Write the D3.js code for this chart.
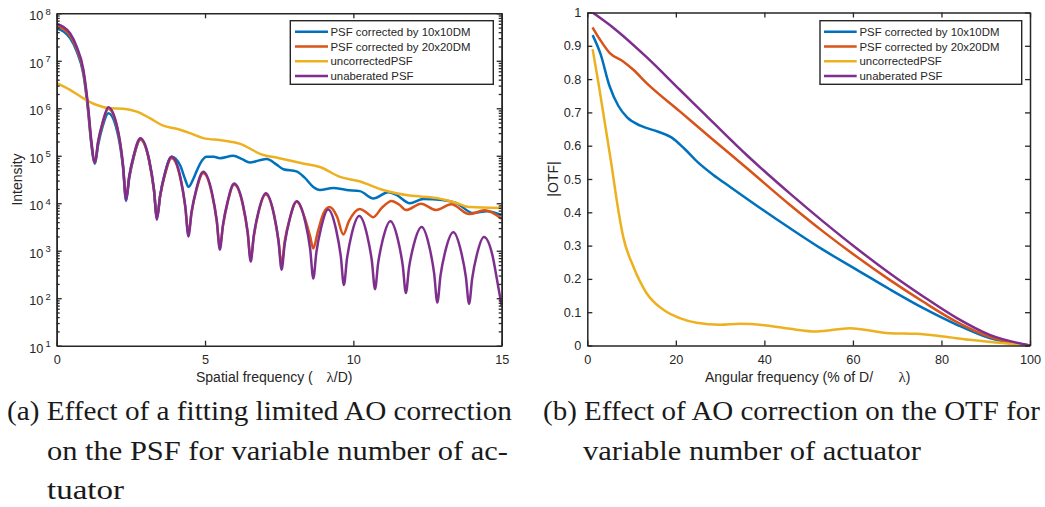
<!DOCTYPE html>
<html><head><meta charset="utf-8">
<script src="https://cdn.jsdelivr.net/npm/d3@7"></script>
<style>body{margin:0;background:#fff} svg{display:block}</style>
</head><body>
<svg id="c" width="1045" height="507"></svg>
<script>
// ---------------- DATA ----------------
const seriesNames = ["PSF corrected by 10x10DM", "PSF corrected by 20x20DM", "uncorrectedPSF", "unaberated PSF"];

// Panel (a): intensity vs spatial frequency (lambda/D)
const psf10 = [[0,4.8e7],[0.22,4.2e7],[0.45,3.0e7],[0.67,1.6e7],[0.9,5.2e6],[1.06,8.5e5],[1.16,1.9e5],[1.29,6.8e4],
[1.395,1.66e5],[1.55,4.2e5],[1.74,7.9e5],[2.08,2.5e5],[2.235,5.6e4],[2.34,1.12e4],
[2.444,3.3e4],[2.6,9.5e4],[2.82,2.2e5],[3.12,7.6e4],[3.276,2.0e4],[3.38,5.0e3],
[3.486,1.45e4],[3.645,4.2e4],[3.87,9.5e4],[4.16,6.3e4],[4.33,3.2e4],[4.44,2.2e4],[4.6,3.2e4],[4.72,4.8e4],[4.9,7.9e4],
[5.05,9.5e4],[5.3,9.5e4],[5.5,8.9e4],[5.95,1.0e5],[6.25,8.5e4],[6.51,7.2e4],[6.8,7.9e4],[7.08,8.5e4],[7.4,6.6e4],
[7.64,5.2e4],[8.08,4.7e4],[8.35,3.5e4],[8.65,2.2e4],[8.87,1.9e4],[9.32,2.1e4],[9.77,1.9e4],[10.22,1.8e4],[10.67,1.26e4],
[11.18,1.7e4],[11.45,1.5e4],[11.9,1.0e4],[12.36,1.23e4],[13.0,1.17e4],[13.48,1.0e4],[14.04,6.2e3],[14.5,6.8e3],[15,5.6e3]];

const psf20 = [[0,5.4e7],[0.22,4.7e7],[0.45,3.4e7],[0.67,1.8e7],[0.9,5.8e6],[1.06,9.5e5],[1.16,2.1e5],[1.29,7.1e4],
[1.395,1.9e5],[1.55,4.8e5],[1.74,9.8e5],[2.08,2.9e5],[2.235,6.2e4],[2.34,1.3e4],
[2.444,3.6e4],[2.6,9.8e4],[2.82,2.2e5],[3.12,7.6e4],[3.276,1.9e4],[3.38,5.0e3],
[3.486,1.4e4],[3.645,3.9e4],[3.87,8.9e4],[4.175,3.2e4],[4.334,8.3e3],[4.44,2.3e3],
[4.546,6.3e3],[4.705,1.85e4],[4.94,4.3e4],[5.235,1.55e4],[5.394,4.2e3],[5.50,1.2e3],
[5.604,3.3e3],[5.76,1.02e4],[5.98,2.45e4],[6.28,8.8e3],[6.436,2.4e3],[6.54,6.8e2],
[6.644,2.0e3],[6.80,6.3e3],[7.05,1.53e4],[7.32,5.8e3],[7.476,1.6e3],[7.58,5.2e2],
[7.687,1.6e3],[7.85,4.6e3],[8.09,1.07e4],[8.38,4.5e3],[8.543,2.0e3],[8.65,1.12e3],
[8.8,2.5e3],[9.0,6.3e3],[9.2,8.3e3],[9.45,5.2e3],[9.66,2.2e3],[9.85,4.2e3],[10.22,7.6e3],[10.45,6.3e3],[10.67,5.1e3],
[10.95,7.9e3],[11.29,1.12e4],[11.55,9.3e3],[11.78,7.2e3],[12.28,9.8e3],[12.79,7.2e3],[13.3,9.5e3],[13.91,5.9e3],[14.42,7.1e3],[15,4.7e3]];

const psfUncorr = [[0,3.4e6],[0.45,2.45e6],[0.9,1.62e6],[1.35,1.17e6],[1.8,1.0e6],[2.25,9.8e5],[2.7,8.5e5],[3.14,6.2e5],
[3.59,4.3e5],[4.04,3.7e5],[4.49,3.0e5],[4.94,2.35e5],[5.6,2.1e5],[6.16,1.8e5],[6.94,1.05e5],[7.5,8.9e4],[8.3,6.9e4],
[8.87,5.8e4],[9.55,3.6e4],[10.2,2.9e4],[11.0,1.9e4],[11.9,1.45e4],[12.8,1.29e4],[13.5,1.0e4],[13.9,8.3e3],[15,7.9e3]];

const psfUnab = [[0,6.0e7],[0.22,5.2e7],[0.45,3.8e7],[0.67,2.0e7],[0.9,6.5e6],[1.06,1.07e6],[1.16,2.3e5],[1.29,7.2e4],
[1.395,2.0e5],[1.55,5.1e5],[1.74,1.05e6],[2.08,3.1e5],[2.235,6.5e4],[2.34,1.17e4],
[2.444,3.7e4],[2.6,1.05e5],[2.82,2.35e5],[3.12,8.1e4],[3.276,2.0e4],[3.38,4.5e3],
[3.486,1.43e4],[3.645,4.2e4],[3.87,9.5e4],[4.175,3.4e4],[4.334,8.7e3],[4.44,2.0e3],
[4.546,6.6e3],[4.705,1.96e4],[4.94,4.6e4],[5.235,1.65e4],[5.394,4.4e3],[5.50,1.05e3],
[5.604,3.5e3],[5.76,1.08e4],[5.98,2.6e4],[6.28,9.3e3],[6.436,2.5e3],[6.54,5.9e2],
[6.644,2.1e3],[6.80,6.6e3],[7.05,1.62e4],[7.32,6.0e3],[7.476,1.62e3],[7.58,4.0e2],
[7.687,1.41e3],[7.85,4.5e3],[8.09,1.1e4],[8.38,4.0e3],[8.543,1.1e3],[8.65,2.6e2],
[8.753,9.3e2],[8.91,3.0e3],[9.15,7.4e3],[9.42,2.75e3],[9.577,7.6e2],[9.68,1.9e2],
[9.785,6.8e2],[9.94,2.2e3],[10.2,5.4e3],[10.47,2.05e3],[10.625,6.0e2],[10.73,1.55e2],
[10.834,5.4e2],[10.99,1.7e3],[11.25,4.2e3],[11.51,1.62e3],[11.666,4.8e2],[11.77,1.29e2],
[11.876,4.4e2],[12.035,1.33e3],[12.3,3.16e3],[12.565,1.18e3],[12.724,3.3e2],[12.83,8.1e1],
[12.937,3.0e2],[13.1,9.8e2],[13.37,2.45e3],[13.63,9.6e2],[13.793,2.8e2],[13.9,7.6e1],
[14.005,2.6e2],[14.16,8.1e2],[14.4,1.95e3],[14.69,7.9e2],[14.845,2.4e2],[15,6.8e1]];

// Panel (b): |OTF| vs angular frequency (% of D/lambda)
const otf10 = [[1.2,0.932],[3,0.875],[5,0.78],[7,0.72],[9,0.685],[12,0.66],[16,0.642],[19,0.625],[22,0.59],[25,0.55],
[28.4,0.513],[32.2,0.477],[39.7,0.407],[45.8,0.352],[53.3,0.287],[60.8,0.228],[68.3,0.169],[75.8,0.113],[83.4,0.063],[90.9,0.022],[100,0]];
const otf20 = [[1.2,0.955],[2.9,0.918],[5.1,0.878],[8.1,0.853],[10.4,0.828],[13.4,0.788],[20.9,0.703],[28.4,0.618],[36,0.533],
[45.8,0.422],[53.3,0.342],[60.8,0.267],[68.3,0.197],[75.8,0.132],[83.4,0.071],[90.9,0.026],[100,0]];
const otfUncorr = [[1.2,0.89],[2.5,0.79],[4,0.665],[5.5,0.54],[6.6,0.44],[8.1,0.327],[10.4,0.237],[13.4,0.157],[17.2,0.107],
[20.9,0.082],[24.7,0.068],[30,0.062],[34.5,0.065],[40.5,0.06],[45.8,0.05],[51.8,0.042],[59.3,0.052],[68.3,0.037],
[74.4,0.035],[80.4,0.027],[86.4,0.017],[92.4,0.009],[100,0]];
const otfUnab = [[1.2,1.0],[6,0.953],[13.4,0.866],[20.9,0.768],[28.4,0.670],[36,0.572],[45.8,0.456],[53.3,0.372],
[60.8,0.292],[68.3,0.217],[75.8,0.148],[83.4,0.083],[90.9,0.032],[100,0]];

const xTicksA = [0,5,10,15];
const yMajorA = [1e1,1e2,1e3,1e4,1e5,1e6,1e7,1e8];
const xTicksB = [0,20,40,60,80,100];
const yTicksB = [0,0.1,0.2,0.3,0.4,0.5,0.6,0.7,0.8,0.9,1];

const xLabelA = ["Spatial frequency (", "\u03BB", "/D)"];
const xLabelB = ["Angular frequency (% of D/", "\u03BB", ")"];
const yLabelA = "Intensity";
const yLabelB = "|OTF|";
const captionA = ["(a) Effect of a fitting limited AO correction", "on the PSF for variable number of ac-", "tuator"];
const captionB = ["(b) Effect of AO correction on the OTF for", "variable number of actuator"];

// ---------------- DRAWING ----------------
const colors = ['#0072BD', '#D95319', '#EDB120', '#7E2F8E'];
const axisColor = '#262626';
const sans = "'Liberation Sans', Arial, Helvetica, sans-serif";
const svg = d3.select('#c');

function panel(box, x, y, opts) {
  const g = svg.append('g');
  const clipId = 'clip' + opts.id;
  svg.append('defs').append('clipPath').attr('id', clipId)
    .append('rect').attr('x', box.x0).attr('y', box.y0).attr('width', box.x1 - box.x0).attr('height', box.y1 - box.y0);

  const line = d3.line().x(d => x(d[0])).y(d => y(d[1])).curve(d3.curveMonotoneX);
  const cg = g.append('g').attr('clip-path', `url(#${clipId})`);
  opts.series.forEach((s, i) => {
    cg.append('path').datum(s).attr('d', line).attr('fill', 'none')
      .attr('stroke', colors[i]).attr('stroke-width', 2.5).attr('stroke-linejoin', 'round').attr('stroke-linecap', 'butt');
  });

  const styleAxis = sel => {
    sel.attr('font-family', sans).attr('font-size', 12.7);
    sel.selectAll('.domain').attr('stroke', axisColor).attr('stroke-width', 1.5);
    sel.selectAll('.tick line').attr('stroke', axisColor).attr('stroke-width', 1.3);
    sel.selectAll('.tick text').attr('fill', axisColor);
  };
  const none = () => '';

  if (opts.yMinor) {
    g.append('g').attr('transform', `translate(${box.x0},0)`)
      .call(d3.axisLeft(y).tickValues(opts.yMinor).tickSizeInner(-3).tickSizeOuter(0).tickFormat(none)).call(styleAxis);
    g.append('g').attr('transform', `translate(${box.x1},0)`)
      .call(d3.axisRight(y).tickValues(opts.yMinor).tickSizeInner(-3).tickSizeOuter(0).tickFormat(none)).call(styleAxis);
  }
  g.append('g').attr('transform', `translate(0,${box.y1})`)
    .call(d3.axisBottom(x).tickValues(opts.xTicks).tickSizeInner(-5).tickSizeOuter(0).tickPadding(9).tickFormat(d3.format('d'))).call(styleAxis);
  g.append('g').attr('transform', `translate(0,${box.y0})`)
    .call(d3.axisTop(x).tickValues(opts.xTicks).tickSizeInner(-5).tickSizeOuter(0).tickFormat(none)).call(styleAxis);
  const la = g.append('g').attr('transform', `translate(${box.x0},0)`)
    .call(d3.axisLeft(y).tickValues(opts.yTicks).tickSizeInner(-5).tickSizeOuter(0).tickPadding(6).tickFormat(opts.yFormat)).call(styleAxis);
  g.append('g').attr('transform', `translate(${box.x1},0)`)
    .call(d3.axisRight(y).tickValues(opts.yTicks).tickSizeInner(-5).tickSizeOuter(0).tickFormat(none)).call(styleAxis);

  if (opts.logLabels) {
    la.selectAll('.tick text').each(function(d) {
      const t = d3.select(this);
      t.text('10').attr('dy', '0.5em');
      t.append('tspan').attr('dy', -5.5).attr('dx', 2).attr('font-size', 9.5).text(Math.round(Math.log10(d)));
    });
  }

  const lg = g.append('g');
  lg.append('rect').attr('x', opts.legend.x0).attr('y', 20.7).attr('width', opts.legend.x1 - opts.legend.x0).attr('height', 63.6)
    .attr('fill', '#fff').attr('stroke', axisColor).attr('stroke-width', 1.4);
  seriesNames.forEach((n, i) => {
    const yy = 31.7 + i * 14.8;
    lg.append('line').attr('x1', opts.legend.lx0).attr('x2', opts.legend.lx1).attr('y1', yy).attr('y2', yy)
      .attr('stroke', colors[i]).attr('stroke-width', 2.5);
    lg.append('text').attr('x', opts.legend.tx).attr('y', yy + 4).attr('font-family', sans).attr('font-size', 11.4)
      .attr('fill', axisColor).text(n);
  });

  const xl = g.append('text').attr('x', opts.xLab.x).attr('y', 382).attr('font-family', sans).attr('font-size', 14).attr('fill', axisColor);
  xl.append('tspan').text(opts.xLab.parts[0]);
  xl.append('tspan').attr('x', opts.xLab.lx).attr('font-family', "'Liberation Serif', 'Times New Roman', serif").attr('font-size', 15).text(opts.xLab.parts[1]);
  xl.append('tspan').text(opts.xLab.parts[2]);

  g.append('text').attr('transform', `translate(${opts.yLab.x},${(box.y0 + box.y1) / 2}) rotate(-90)`)
    .attr('text-anchor', 'middle').attr('font-family', sans).attr('font-size', 14).attr('fill', axisColor).text(opts.yLab.text);
}

const boxA = {x0: 56.7, x1: 501.7, y0: 13.3, y1: 345.7};
const xA = d3.scaleLinear().domain([0, 15]).range([boxA.x0, boxA.x1]);
const yA = d3.scaleLog().domain([1e1, 1e8]).range([boxA.y1, boxA.y0]);
const minorA = [];
yMajorA.slice(0, -1).forEach(m => { for (let k = 2; k <= 9; k++) minorA.push(m * k); });
panel(boxA, xA, yA, {
  id: 'A', series: [psf10, psf20, psfUncorr, psfUnab], xTicks: xTicksA, yTicks: yMajorA, yMinor: minorA,
  yFormat: d => '10', logLabels: true,
  legend: {x0: 290.3, x1: 493.3, lx0: 295, lx1: 328, tx: 330.5},
  xLab: {x: 196, lx: 326.5, parts: xLabelA},
  yLab: {x: 22, text: yLabelA}
});

const boxB = {x0: 587.3, x1: 1030, y0: 12.5, y1: 345.5};
const xB = d3.scaleLinear().domain([0, 100]).range([boxB.x0, boxB.x1]);
const yB = d3.scaleLinear().domain([0, 1]).range([boxB.y1, boxB.y0]);
panel(boxB, xB, yB, {
  id: 'B', series: [otf10, otf20, otfUncorr, otfUnab], xTicks: xTicksB, yTicks: yTicksB,
  yFormat: d => (d === 0 || d === 1) ? String(d) : d3.format('.1f')(d), logLabels: false,
  legend: {x0: 820, x1: 1021.7, lx0: 824, lx1: 856.7, tx: 859.5},
  xLab: {x: 705, lx: 898.5, parts: xLabelB},
  yLab: {x: 557.5, text: yLabelB}
});

const serif = "'Liberation Serif', 'Times New Roman', serif";
const capA = [{x: 7, y: 420, w: 505}, {x: 47, y: 460, w: 461}, {x: 47, y: 499, w: 77}];
const capB = [{x: 543, y: 420, w: 497}, {x: 583, y: 460, w: 338}];
captionA.forEach((t, i) => svg.append('text').attr('x', capA[i].x).attr('y', capA[i].y).attr('font-family', serif)
  .attr('font-size', 27).attr('fill', '#1a1a1a').attr('textLength', capA[i].w).attr('lengthAdjust', 'spacingAndGlyphs').text(t));
captionB.forEach((t, i) => svg.append('text').attr('x', capB[i].x).attr('y', capB[i].y).attr('font-family', serif)
  .attr('font-size', 27).attr('fill', '#1a1a1a').attr('textLength', capB[i].w).attr('lengthAdjust', 'spacingAndGlyphs').text(t));
</script>
</body></html>
